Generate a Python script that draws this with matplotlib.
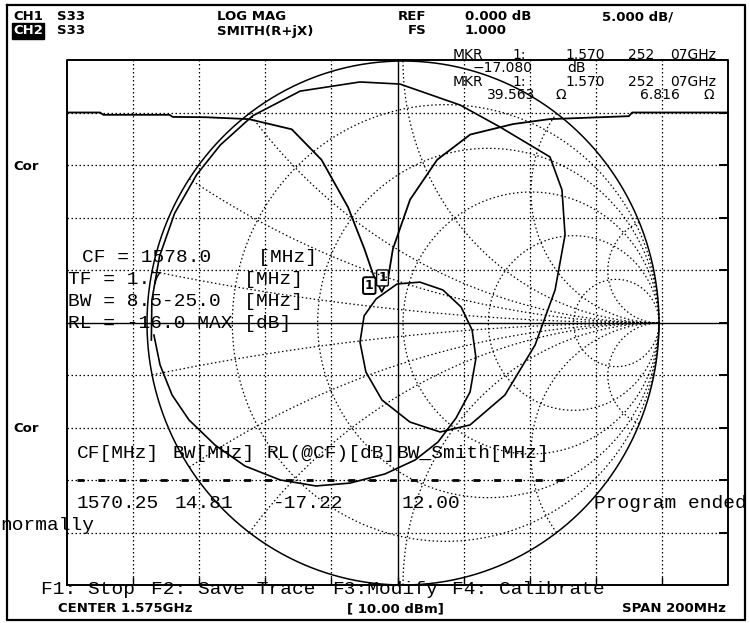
import matplotlib
matplotlib.use('Agg')
import matplotlib.pyplot as plt
import numpy as np

# ---------------- data ----------------
# CH1 LOG MAG trace (frequency MHz, dB)
logmag_freq = [1475, 1485, 1486, 1506, 1507, 1517, 1530, 1543, 1552, 1560, 1565, 1567.6,
               1570.25, 1572.1, 1573.6, 1578.8, 1587, 1597, 1610, 1621, 1645, 1646, 1675]
logmag_db = [0.0, 0.0, -0.22, -0.22, -0.42, -0.45, -0.63, -1.6, -4.5, -9.0, -13.0, -15.4,
             -17.08, -15.9, -13.0, -8.3, -4.5, -2.1, -1.1, -0.63, -0.35, 0.0, 0.0]

# CH2 Smith trace (reflection coefficient, real / imag), in sweep order
smith_re = [-0.983, -0.981, -0.951, -0.892, -0.806, -0.714, -0.587, -0.402, -0.168, -0.012,
            0.223, 0.379, 0.574, 0.621, 0.633, 0.594, 0.516, 0.398, 0.262, 0.145, 0.027,
            -0.082, -0.145, -0.168, -0.152, -0.105, -0.023, 0.066, 0.156, 0.227, 0.270,
            0.285, 0.262, 0.207, 0.137, 0.047, -0.070, -0.207, -0.340, -0.480, -0.617,
            -0.734, -0.836, -0.902, -0.949, -0.973]
smith_im = [-0.065, 0.087, 0.255, 0.419, 0.566, 0.679, 0.791, 0.885, 0.920, 0.912,
            0.832, 0.748, 0.634, 0.508, 0.336, 0.126, -0.084, -0.275, -0.389, -0.416, -0.378,
            -0.294, -0.187, -0.073, 0.027, 0.092, 0.149, 0.156, 0.126, 0.061, -0.027,
            -0.134, -0.263, -0.363, -0.454, -0.523, -0.576, -0.611, -0.622, -0.599, -0.546,
            -0.466, -0.370, -0.275, -0.160, -0.046]

marker_freq = 1570.25
marker_db = -17.08
marker_gamma = (-0.110, 0.0845)

smith_r = [0.2, 0.5, 1.0, 2.0, 5.0]
smith_x = [0.1, 0.3, 0.5, 1.0, 2.0, 5.0]

f_start, f_stop = 1475, 1675
db_top, db_bottom = 5, -45

# ---------------- figure ----------------
W, H = 750, 623
fig = plt.figure(figsize=(7.5, 6.23), dpi=100)
fig.patch.set_facecolor('white')

def px_box(x0, y0, x1, y1):
    return [x0 / W, (H - y1) / H, (x1 - x0) / W, (y1 - y0) / H]

DOT = (0, (1.2, 2.0))
K = 'black'

# graticule
GX0, GY0, GX1, GY1 = 67, 60, 728, 585
g = fig.add_axes(px_box(GX0, GY0, GX1, GY1))
g.set_xlim(f_start, f_stop)
g.set_ylim(db_bottom, db_top)
g.axis('off')
for i in range(1, 10):
    f = f_start + i * (f_stop - f_start) / 10
    g.axvline(f, color=K, lw=1.0 if i == 5 else 0.9, ls='-' if i == 5 else DOT)
    d = db_bottom + i * (db_top - db_bottom) / 10
    g.axhline(d, color=K, lw=1.0 if i == 5 else 0.9, ls='-' if i == 5 else DOT)
    g.plot([f_stop - 2.8, f_stop], [d, d], color=K, lw=1.4, solid_capstyle='butt')
    g.plot([f, f], [db_bottom, db_bottom + 0.8], color=K, lw=1.0, solid_capstyle='butt')
g.plot([f_start, f_stop, f_stop, f_start, f_start],
       [db_bottom, db_bottom, db_top, db_top, db_bottom], color=K, lw=1.4, clip_on=False)

g.plot(logmag_freq, logmag_db, color=K, lw=1.3, clip_on=False)
g.annotate('1', xy=(marker_freq, marker_db), xytext=(0.5, 10), textcoords='offset points',
           ha='center', va='center', fontsize=9, fontweight='bold', family='DejaVu Sans',
           bbox=dict(boxstyle='round,pad=0.12', fc='white', ec=K, lw=1.0))

# smith chart
CX, CY, RX, RY = 403, 323, 256, 262
s = fig.add_axes(px_box(CX - RX, CY - RY, CX + RX, CY + RY))
s.set_xlim(-1, 1)
s.set_ylim(-1, 1)
s.axis('off')
s.patch.set_alpha(0)
t = np.linspace(0, 2 * np.pi, 600)
s.plot(np.cos(t), np.sin(t), color=K, lw=1.1, clip_on=False)
for r in smith_r:
    c, rad = r / (1 + r), 1 / (1 + r)
    s.plot(c + rad * np.cos(t), rad * np.sin(t), color=K, lw=0.9, ls=DOT, clip_on=False)
rr = np.concatenate([[0], np.geomspace(1e-3, 2e3, 500)])
for x in smith_x:
    for sg in (1, -1):
        z = rr + 1j * sg * x
        gm = (z - 1) / (z + 1)
        s.plot(gm.real, gm.imag, color=K, lw=0.9, ls=DOT, clip_on=False)

s.plot(smith_re, smith_im, color=K, lw=1.2, clip_on=False)
s.annotate('1', xy=marker_gamma, xytext=(-4, 11), textcoords='offset points',
           ha='center', va='center', fontsize=9, fontweight='bold', family='DejaVu Sans',
           bbox=dict(boxstyle='round,pad=0.15', fc='white', ec=K, lw=1.4))

# overlay text
ov = fig.add_axes([0, 0, 1, 1])
ov.set_xlim(0, W)
ov.set_ylim(H, 0)
ov.axis('off')
ov.patch.set_alpha(0)
ov.plot([7, 745, 745, 7, 7], [5, 5, 620, 620, 5], color=K, lw=1.6)

BF = dict(family='DejaVu Sans', fontweight='bold', fontsize=9.5, va='center', ha='left')
for x, y, txt in [(13, 17, 'CH1'), (57, 17, 'S33'), (217, 17, 'LOG MAG'), (398, 17, 'REF'),
                  (465, 17, '0.000 dB'), (602, 17, '5.000 dB/'),
                  (57, 31, 'S33'), (217, 31, 'SMITH(R+jX)'), (408, 31, 'FS'), (465, 31, '1.000'),
                  (13, 166, 'Cor'), (13, 429, 'Cor'),
                  (58, 609, 'CENTER 1.575GHz'), (347, 609, '[ 10.00 dBm]'), (622, 609, 'SPAN 200MHz')]:
    ov.text(x, y, txt, **BF)
ov.text(13, 31, 'CH2', color='white',
        bbox=dict(boxstyle='square,pad=0.08', fc='black', ec='black'), **BF)

MF = dict(family='DejaVu Sans', fontsize=10, va='center', ha='left')
for x, y, txt in [(453, 55, 'MKR'), (512, 55, '1:'), (565, 55, '1.570'), (628, 55, '252'), (670, 55, '07GHz'),
                  (473, 68, '\u221217.080'), (567, 68, 'dB'),
                  (453, 82, 'MKR'), (512, 82, '1:'), (565, 82, '1.570'), (628, 82, '252'), (670, 82, '07GHz'),
                  (487, 95, '39.563'), (555, 95, '\u03a9'), (640, 95, '6.816'), (703, 95, '\u03a9')]:
    ov.text(x, y, txt, **MF)

SF = dict(family='Liberation Mono', fontsize=14, va='center', ha='left')
for x, y, txt in [(82, 258, 'CF = 1578.0    [MHz]'),
                  (68, 280, 'TF = 1.7       [MHz]'),
                  (68, 301, 'BW = 8.5-25.0  [MHz]'),
                  (68, 323, 'RL = -16.0 MAX [dB]'),
                  (77, 453, 'CF[MHz]'), (172, 453, 'BW[MHz]'), (266, 453, 'RL(@CF)[dB]'), (397, 453, 'BW_Smith[MHz]'),
                  (77, 504, '1570.25'), (175, 504, '14.81'), (273, 504, '-17.22'), (402, 504, '12.00'),
                  (594, 504, 'Program ended'), (0, 525, 'normally'),
                  (41, 590, 'F1: Stop'), (151, 590, 'F2: Save Trace'), (332, 590, 'F3:Modify'), (452, 590, 'F4: Calibrate')]:
    ov.text(x, y, txt, **SF)
ov.plot([77, 568], [480, 480], color=K, lw=2.0, ls=(0, (2.5, 5)))

fig.savefig('out.png', dpi=100, facecolor='white')
